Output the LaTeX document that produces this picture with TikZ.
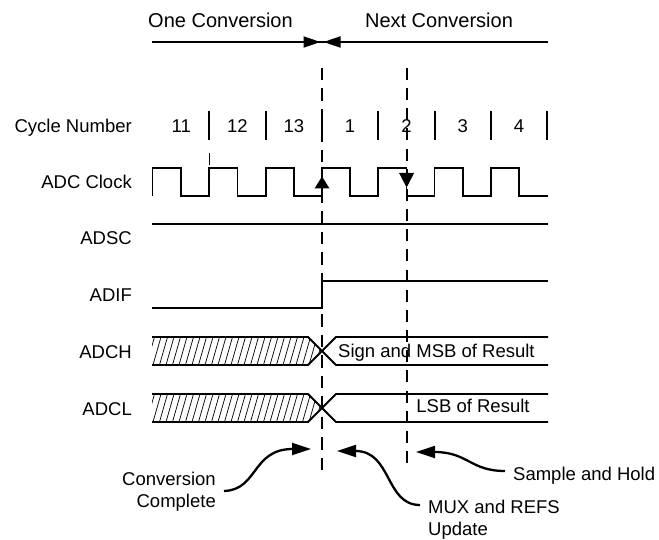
\documentclass[tikz,border=0pt]{standalone}
\usepackage{fontspec}
\setmainfont{Liberation Sans}
\usetikzlibrary{arrows.meta}
\begin{document}
\begin{tikzpicture}[x=1pt,y=-1pt,
  lbl/.style={font=\fontsize{18.5}{22}\selectfont, inner sep=0pt},
  toplbl/.style={font=\fontsize{20}{24}\selectfont, inner sep=0pt},
  wave/.style={line width=1.8pt},
  tickmark/.style={line width=2pt},
  thintick/.style={line width=0.8pt},
  dashline/.style={line width=1.8pt, dash pattern=on 12.5pt off 8pt},
  dashlinetwo/.style={line width=1.8pt, dash pattern=on 12pt off 8.16pt},
  hatchline/.style={line width=0.7pt},
  spanarrow/.style={line width=1.8pt, -{Triangle[length=17pt,width=11pt]}},
  curvearrow/.style={line width=2.3pt, -{Triangle[length=19pt,width=12pt]}}
]
\useasboundingbox (0,0) rectangle (659,540);

% top labels and span arrows
\node[toplbl, anchor=base] (one) at (220.5,28) {One Conversion};
\node[toplbl, anchor=base] (next) at (439,28) {Next Conversion};
\coordinate (spanL) at (152,42);
\coordinate (spanR) at (548,42);
\coordinate (spanM1) at (320.5,42);
\coordinate (spanM2) at (323.5,42);
\draw[wave] (spanL) -- (spanR);
\draw[spanarrow] (spanL) -- (spanM1);
\draw[spanarrow] (spanR) -- (spanM2);

% row labels
\node[lbl, anchor=base east] (lcycle) at (132,133) {Cycle Number};
\node[lbl, anchor=base east] (lclk) at (132,189) {ADC Clock};
\node[lbl, anchor=base east] (ladsc) at (132,245) {ADSC};
\node[lbl, anchor=base east] (ladif) at (132,301.5) {ADIF};
\node[lbl, anchor=base east] (ladch) at (132,358) {ADCH};
\node[lbl, anchor=base east] (ladcl) at (132,415) {ADCL};

% cycle numbers and ticks
\foreach \n [count=\k from 0] in {11,12,13,1,2,3,4}
  \node[lbl, anchor=base] (num\k) at ({181.2+56.3*\k},133) {\n};
\foreach \k in {0,...,6}
  \draw[tickmark] ({209.3+56.3*\k},111) -- ++(0,29);

% dashed markers
\coordinate (d1top) at (322,68);
\coordinate (d1bot) at (322,470);
\coordinate (d2top) at (406.6,68);
\coordinate (d2bot) at (406.6,463);
\draw[dashline] (d1top) -- (d1bot);
\draw[dashlinetwo] (d2top) -- (d2bot);

% ADC clock
\draw[thintick] (209.3,153) -- (209.3,165);
\draw[wave] (152.5,196) -- (152.5,168) -- (181.3,168) -- (181.3,196)
  \foreach \k in {0,...,5} { -- ({209.3+56.3*\k},196) -- ++(0,-28) -- ++(28.2,0) -- ++(0,28) }
  -- (548,196);
\fill (314.5,188.5) -- (329.5,188.5) -- (322,176.5) -- cycle;
\fill (399.1,173) -- (414.1,173) -- (406.6,187.5) -- cycle;

% ADSC
\draw[wave] (152,224) -- (548,224);

% ADIF
\draw[wave] (152,308) -- (322,308) -- (322,281) -- (548,281);

% ADCH bus
\begin{scope}
  \clip (152,337) -- (308,337) -- (322,351) -- (308,365) -- (152,365) -- cycle;
  \foreach \x in {140,146.5,...,330} \draw[hatchline] (\x,365) -- (\x+8,337);
\end{scope}
\draw[wave] (152,337) -- (308,337) -- (336,365) -- (548,365);
\draw[wave] (152,365) -- (308,365) -- (336,337) -- (548,337);
\node[lbl, anchor=base west] (msb) at (338,357) {Sign and MSB of Result};

% ADCL bus
\begin{scope}
  \clip (152,394) -- (308,394) -- (322,408) -- (308,422) -- (152,422) -- cycle;
  \foreach \x in {140,146.5,...,330} \draw[hatchline] (\x,422) -- (\x+8,394);
\end{scope}
\draw[wave] (152,394) -- (308,394) -- (336,422) -- (548,422);
\draw[wave] (152,422) -- (308,422) -- (336,394) -- (548,394);
\node[lbl, anchor=base] (lsb) at (473,412) {LSB of Result};

% bottom annotations
\node[lbl, anchor=base east] (cc1) at (216,485) {Conversion};
\node[lbl, anchor=base east] (cc2) at (216,507) {Complete};
\node[lbl, anchor=base west] (mux1) at (428,513) {MUX and REFS};
\node[lbl, anchor=base west] (mux2) at (428,535) {Update};
\node[lbl, anchor=base west] (sh) at (513,480) {Sample and Hold};

\coordinate (ccs) at (224,491);
\coordinate (cct) at (311,449);
\coordinate (muxs) at (420,505);
\coordinate (muxt) at (337,451);
\coordinate (shs) at (505,471);
\coordinate (sht) at (416,452);
\draw[curvearrow] (ccs) .. controls (258,490) and (252,449) .. (cct);
\draw[curvearrow] (muxs) .. controls (385,505) and (392,451) .. (muxt);
\draw[curvearrow] (shs) .. controls (470,471) and (468,452) .. (sht);
\end{tikzpicture}
\end{document}
